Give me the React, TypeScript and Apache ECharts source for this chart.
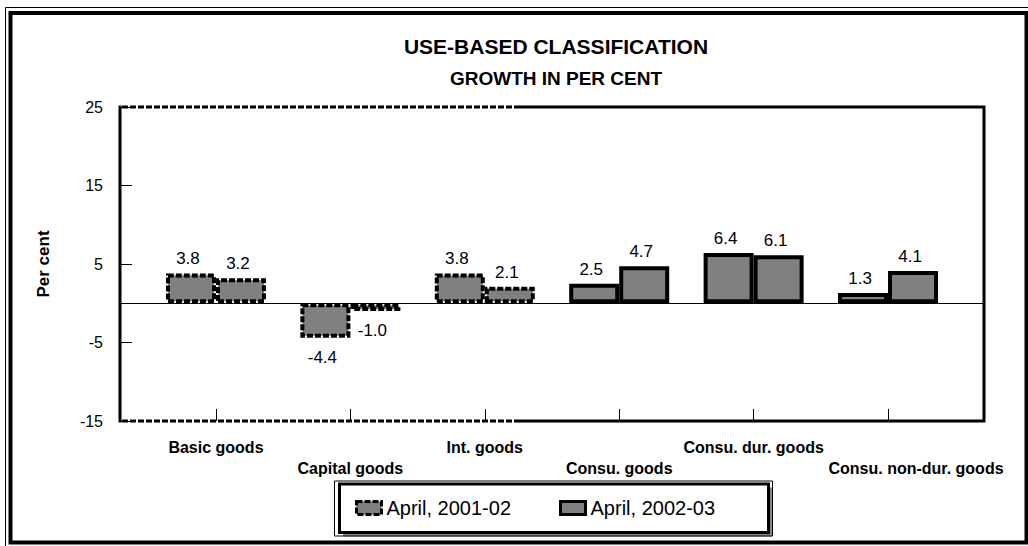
import React, { useEffect, useRef } from "react";
import * as echarts from "echarts";

const categories = [
  "Basic goods",
  "Capital goods",
  "Int. goods",
  "Consu. goods",
  "Consu. dur. goods",
  "Consu. non-dur. goods",
];
const seriesNames = ["April, 2001-02", "April, 2002-03"];
const values2001 = [3.8, -4.4, 3.8, 2.5, 6.4, 1.3];
const values2002 = [3.2, -1.0, 2.1, 4.7, 6.1, 4.1];
const yTickValues = [-15, -5, 5, 15, 25];
const dashedCategories = [0, 1, 2];

const FONT = "'Liberation Sans', Arial, sans-serif";
const dash = () => [6, 2];

function buildData(values: number[]) {
  return values.map((v, i) => ({
    value: [i, v],
    itemStyle: {
      borderType: dashedCategories.includes(i) ? dash() : "solid",
    },
    label: {
      position: v < 0 ? "bottom" : "top",
      distance: v < 0 ? 11 : 6,
    },
  }));
}

export default function App() {
  const ref = useRef<HTMLDivElement>(null);

  useEffect(() => {
    if (!ref.current) return;
    const chart = echarts.init(ref.current, null, { renderer: "svg" });
    const catIdx = categories.map((_, i) => i);
    const evenIdx = catIdx.filter((i) => i % 2 === 0);
    const oddIdx = catIdx.filter((i) => i % 2 === 1);
    const lastIdx = categories.length - 1;

    const labelCommon = {
      show: true,
      color: "#000",
      fontSize: 17,
      fontFamily: FONT,
      offset: [-3, 0],
      formatter: (p: any) => p.value[1].toFixed(1),
    };

    const xLabelStyle = {
      show: true,
      hideOverlap: false,
      showMinLabel: true,
      showMaxLabel: true,
      fontSize: 16,
      fontWeight: "bold",
      fontFamily: FONT,
      color: "#000",
      rich: {
        shifted: {
          fontSize: 16,
          fontWeight: "bold",
          fontFamily: FONT,
          color: "#000",
          padding: [0, 0, 0, 56],
        },
      },
      formatter: (v: number) => {
        const i = Math.round(v);
        const name = categories[i] ?? "";
        return i === lastIdx ? "{shifted|" + name + "}" : name;
      },
    };

    chart.setOption({
      animation: false,
      backgroundColor: "#fff",
      title: [
        {
          text: "USE-BASED CLASSIFICATION",
          left: 551,
          top: 31,
          textAlign: "center",
          textStyle: { fontSize: 21, fontWeight: "bold", fontFamily: FONT, color: "#000" },
        },
        {
          text: "GROWTH IN PER CENT",
          left: 551,
          top: 64,
          textAlign: "center",
          textStyle: { fontSize: 19, fontWeight: "bold", fontFamily: FONT, color: "#000" },
        },
      ],
      grid: {
        left: 120,
        right: 44,
        top: 107,
        bottom: 125,
        show: false,
      },
      legend: {
        data: [
          { name: seriesNames[0], itemStyle: { borderType: dash() } },
          { name: seriesNames[1], itemStyle: { borderType: "solid" } },
        ],
        left: 355,
        top: 498,
        padding: 0,
        icon: "rect",
        itemWidth: 25,
        itemHeight: 13,
        itemGap: 48,
        itemStyle: { borderColor: "#000", borderWidth: 3 },
        textStyle: { fontSize: 20, fontFamily: FONT, color: "#000" },
      },
      xAxis: [
        {
          type: "value",
          min: -0.714,
          max: 5.714,
          position: "bottom",
          axisLine: { show: false, onZero: false },
          axisTick: {
            show: true,
            inside: true,
            length: 12,
            customValues: catIdx,
            lineStyle: { color: "#000", width: 1, type: "solid" },
          },
          axisLabel: { ...xLabelStyle, customValues: evenIdx, margin: 18 },
          splitLine: { show: false },
        },
        {
          type: "value",
          min: -0.714,
          max: 5.714,
          position: "bottom",
          axisLine: { show: false, onZero: false },
          axisTick: { show: false },
          axisLabel: { ...xLabelStyle, customValues: oddIdx, margin: 39 },
          splitLine: { show: false },
        },
      ],
      yAxis: {
        type: "value",
        min: -15,
        max: 25,
        name: "Per cent",
        nameLocation: "middle",
        nameGap: 68,
        nameRotate: 90,
        nameTextStyle: { fontSize: 17, fontWeight: "bold", fontFamily: FONT, color: "#000" },
        axisLine: { show: false, onZero: false },
        axisTick: {
          show: true,
          inside: true,
          length: 12,
          customValues: yTickValues,
          lineStyle: { color: "#000", width: 1, type: "solid" },
        },
        axisLabel: {
          customValues: yTickValues,
          margin: 17,
          fontSize: 16,
          fontFamily: FONT,
          color: "#000",
        },
        splitLine: { show: false },
      },
      series: [
        {
          name: seriesNames[0],
          type: "bar",
          xAxisIndex: 0,
          barWidth: 50,
          barGap: "0%",
          itemStyle: { color: "#808080", borderColor: "#000", borderWidth: 4, borderType: dash() },
          label: labelCommon,
          data: buildData(values2001),
          markLine: {
            silent: true,
            symbol: "none",
            label: { show: false },
            lineStyle: { color: "#000", width: 1, type: "solid" },
            data: [{ yAxis: 0 }],
            z: 1,
          },
        },
        {
          name: seriesNames[1],
          type: "bar",
          xAxisIndex: 0,
          barWidth: 50,
          barGap: "0%",
          itemStyle: { color: "#808080", borderColor: "#000", borderWidth: 4, borderType: "solid" },
          label: labelCommon,
          data: buildData(values2002),
        },
      ],
      graphic: [
        // outer double frame
        {
          type: "rect",
          z: 0,
          silent: true,
          shape: { x: 5.5, y: 7.5, width: 1030, height: 545 },
          style: { fill: "none", stroke: "#000", lineWidth: 1 },
        },
        {
          type: "rect",
          z: 0,
          silent: true,
          shape: { x: 10.5, y: 13, width: 1016, height: 529.5 },
          style: { fill: "none", stroke: "#000", lineWidth: 4 },
        },
        // plot frame: solid segments
        {
          type: "polyline",
          z: 60,
          silent: true,
          shape: { points: [[516, 107], [984, 107], [984, 421], [516, 421]] },
          style: { stroke: "#000", lineWidth: 3, fill: "none" },
        },
        {
          type: "rect",
          z: 60,
          silent: true,
          shape: { x: 118.5, y: 105.5, width: 3, height: 317 },
          style: { fill: "#000", stroke: "none" },
        },
        // plot frame: dashed segments
        {
          type: "line",
          z: 61,
          silent: true,
          shape: { x1: 122, y1: 107, x2: 516, y2: 107 },
          style: { stroke: "#000", lineWidth: 3, lineDash: dash() },
        },
        {
          type: "line",
          z: 61,
          silent: true,
          shape: { x1: 122, y1: 421, x2: 516, y2: 421 },
          style: { stroke: "#000", lineWidth: 3, lineDash: dash() },
        },
        // legend box
        {
          type: "rect",
          z: 1,
          silent: true,
          shape: { x: 343, y: 487.5, width: 429, height: 49 },
          style: { fill: "#888", stroke: "none" },
        },
        {
          type: "rect",
          z: 2,
          silent: true,
          shape: { x: 339.5, y: 484, width: 429, height: 48.5 },
          style: { fill: "#fff", stroke: "#000", lineWidth: 3 },
        },
        {
          type: "rect",
          z: 2,
          silent: true,
          shape: { x: 334.5, y: 481, width: 438, height: 55 },
          style: { fill: "none", stroke: "#000", lineWidth: 1 },
        },
      ],
    });

    return () => chart.dispose();
  }, []);

  return (
    <div
      ref={ref}
      style={{ position: "fixed", left: 0, top: 0, width: 1028, height: 546, background: "#fff" }}
    />
  );
}
